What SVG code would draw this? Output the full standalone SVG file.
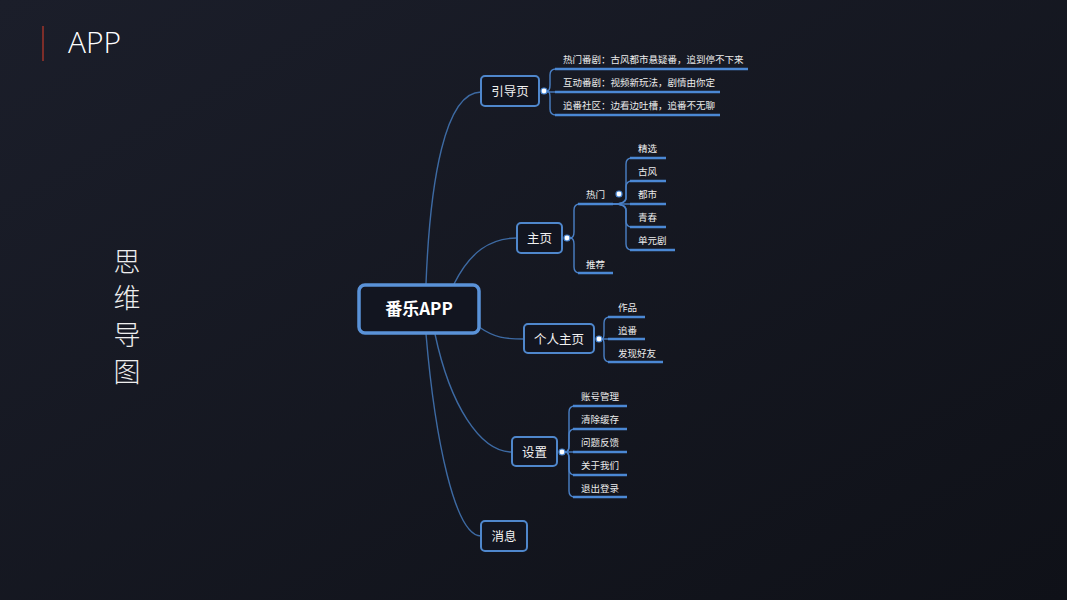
<svg xmlns="http://www.w3.org/2000/svg" width="1067" height="600" viewBox="0 0 1067 600">
<defs>
<linearGradient id="bg" x1="0" y1="0" x2="1" y2="1">
<stop offset="0" stop-color="#1b1e2a"/>
<stop offset="1" stop-color="#0f1118"/>
</linearGradient>
</defs>
<style>
.node rect{fill:#121520;stroke:#4f87cc;stroke-width:2}
.ntext{font-family:"Noto Sans CJK SC",sans-serif;font-size:12.5px;fill:#f2f2f2;text-anchor:middle}
.stext{font-family:"Noto Sans CJK SC",sans-serif;font-size:9.5px;fill:#ececec}
.conn{fill:none;stroke:#3d6aa3;stroke-width:1.4}
.br{fill:none;stroke:#4a80c6;stroke-width:1.4}
.ul{stroke:#4b88d4;stroke-width:2.4;stroke-linecap:butt}
.dot{fill:#ffffff;stroke:#4b88d4;stroke-width:1.2}
</style>
<rect width="1067" height="600" fill="url(#bg)"/>
<g id="title">
<line x1="43" y1="26" x2="43" y2="61" stroke="#c0392b" stroke-width="1.2"/>
<text x="68" y="53" font-family="Open Sans, sans-serif" font-weight="300" font-size="29" fill="#ffffff" textLength="53" lengthAdjust="spacingAndGlyphs">APP</text>
</g>
<g id="side-title" font-family="Noto Sans CJK SC, sans-serif" font-weight="300" font-size="27" fill="#eeeeee" text-anchor="middle">
<text x="127" y="272">思</text>
<text x="127" y="308">维</text>
<text x="127" y="345">导</text>
<text x="127" y="382">图</text>
</g>
<g id="connectors">
<path class="conn" d="M426,284 C430,180 445,92 481,92"/>
<path class="conn" d="M454,284 C470,252 490,238 517,238"/>
<path class="conn" d="M479,327 C495,338 505,339 524,339"/>
<path class="conn" d="M435,334 C450,405 480,452 512,452"/>
<path class="conn" d="M426,334 C435,440 455,536 481,536"/>
<path class="br" d="M547,91 Q550,91 550,85 L550,75 Q550,69 556,69"/>
<path class="br" d="M547,92 L556,92"/>
<path class="br" d="M547,91 Q550,91 550,97 L550,109 Q550,115 556,115"/>
<path class="br" d="M570,238 Q574,238 574,232 L574,210 Q574,204 580,204"/>
<path class="br" d="M570,238 Q574,238 574,244 L574,267 Q574,273 580,273"/>
<path class="br" d="M613,204 L630,204"/>
<path class="br" d="M613,204 Q626,204 626,198 L626,164 Q626,158 632,158"/>
<path class="br" d="M613,204 Q626,204 626,198 L626,187 Q626,181 632,181"/>
<path class="br" d="M613,204 Q626,204 626,210 L626,221 Q626,227 632,227"/>
<path class="br" d="M613,204 Q626,204 626,210 L626,244 Q626,250 632,250"/>
<path class="br" d="M602,339 Q604,339 604,333 L604,323 Q604,317 610,317"/>
<path class="br" d="M602,339 L610,339"/>
<path class="br" d="M602,339 Q604,339 604,345 L604,356 Q604,362 610,362"/>
<path class="br" d="M565,452 Q569,452 569,446 L569,412 Q569,406 575,406"/>
<path class="br" d="M565,452 Q569,452 569,446 L569,435 Q569,429 575,429"/>
<path class="br" d="M565,452 L575,452"/>
<path class="br" d="M565,452 Q569,452 569,458 L569,469 Q569,475 575,475"/>
<path class="br" d="M565,452 Q569,452 569,458 L569,491 Q569,497 575,497"/>
</g>
<g id="root">
<rect x="359" y="285" width="120" height="48" rx="6" fill="#121520" stroke="#5a92d8" stroke-width="3.5"/>
<text x="419" y="315" font-family="Noto Sans CJK SC, sans-serif" font-weight="bold" font-size="17" fill="#ffffff" text-anchor="middle">番乐APP</text>
</g>
<g id="guide" class="node">
<rect x="481" y="76" width="58" height="30" rx="4"/>
<text class="ntext" x="510" y="96">引导页</text>
<circle class="dot" cx="544" cy="91" r="3"/>
</g>
<g id="guide-1">
<line class="ul" x1="555" y1="69" x2="748" y2="69"/>
<text class="stext" x="563" y="63">热门番剧：古风都市悬疑番，追到停不下来</text>
</g>
<g id="guide-2">
<line class="ul" x1="555" y1="92" x2="720" y2="92"/>
<text class="stext" x="563" y="86">互动番剧：视频新玩法，剧情由你定</text>
</g>
<g id="guide-3">
<line class="ul" x1="555" y1="115" x2="720" y2="115"/>
<text class="stext" x="563" y="109">追番社区：边看边吐槽，追番不无聊</text>
</g>
<g id="home" class="node">
<rect x="517" y="223" width="45" height="30" rx="4"/>
<text class="ntext" x="539.5" y="243">主页</text>
<circle class="dot" cx="567" cy="238" r="3"/>
</g>
<g id="hot">
<line class="ul" x1="578" y1="204" x2="613" y2="204"/>
<text class="stext" x="586" y="198">热门</text>
<circle class="dot" cx="619" cy="194" r="3"/>
</g>
<g id="recommend">
<line class="ul" x1="578" y1="273" x2="613" y2="273"/>
<text class="stext" x="586" y="268">推荐</text>
</g>
<g id="hot-1">
<line class="ul" x1="630" y1="158" x2="666" y2="158"/>
<text class="stext" x="638" y="152">精选</text>
</g>
<g id="hot-2">
<line class="ul" x1="630" y1="181" x2="666" y2="181"/>
<text class="stext" x="638" y="175">古风</text>
</g>
<g id="hot-3">
<line class="ul" x1="630" y1="204" x2="666" y2="204"/>
<text class="stext" x="638" y="198">都市</text>
</g>
<g id="hot-4">
<line class="ul" x1="630" y1="227" x2="666" y2="227"/>
<text class="stext" x="638" y="221">青春</text>
</g>
<g id="hot-5">
<line class="ul" x1="630" y1="250" x2="675" y2="250"/>
<text class="stext" x="638" y="244">单元剧</text>
</g>
<g id="profile" class="node">
<rect x="524" y="324" width="70" height="29" rx="4"/>
<text class="ntext" x="559" y="343.5">个人主页</text>
<circle class="dot" cx="599" cy="339" r="3"/>
</g>
<g id="profile-1">
<line class="ul" x1="608" y1="317" x2="645" y2="317"/>
<text class="stext" x="618" y="311">作品</text>
</g>
<g id="profile-2">
<line class="ul" x1="608" y1="339" x2="645" y2="339"/>
<text class="stext" x="618" y="334">追番</text>
</g>
<g id="profile-3">
<line class="ul" x1="608" y1="362" x2="663" y2="362"/>
<text class="stext" x="618" y="357">发现好友</text>
</g>
<g id="settings" class="node">
<rect x="512" y="437" width="45" height="29" rx="4"/>
<text class="ntext" x="534.5" y="456.5">设置</text>
<circle class="dot" cx="562" cy="452" r="3"/>
</g>
<g id="settings-1">
<line class="ul" x1="573" y1="406" x2="627" y2="406"/>
<text class="stext" x="581" y="400">账号管理</text>
</g>
<g id="settings-2">
<line class="ul" x1="573" y1="429" x2="627" y2="429"/>
<text class="stext" x="581" y="423">清除缓存</text>
</g>
<g id="settings-3">
<line class="ul" x1="573" y1="452" x2="627" y2="452"/>
<text class="stext" x="581" y="446">问题反馈</text>
</g>
<g id="settings-4">
<line class="ul" x1="573" y1="475" x2="627" y2="475"/>
<text class="stext" x="581" y="469">关于我们</text>
</g>
<g id="settings-5">
<line class="ul" x1="573" y1="497" x2="627" y2="497"/>
<text class="stext" x="581" y="492">退出登录</text>
</g>
<g id="message" class="node">
<rect x="481" y="521" width="46" height="30" rx="4"/>
<text class="ntext" x="504" y="541">消息</text>
</g>
</svg>
